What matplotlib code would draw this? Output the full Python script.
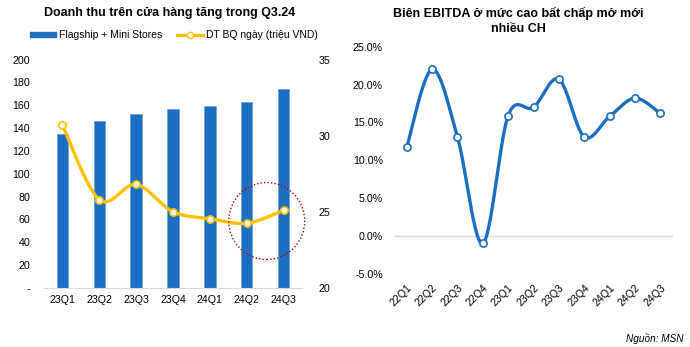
import numpy as np
import matplotlib
matplotlib.use("Agg")
import matplotlib.pyplot as plt
from matplotlib.patches import Ellipse

plt.rcParams['font.family'] = ['Liberation Sans', 'DejaVu Sans']

# left chart
quarters = ['23Q1', '23Q2', '23Q3', '23Q4', '24Q1', '24Q2', '24Q3']
stores = [135, 146, 152, 157, 159, 163, 174]
rev_per_day = [30.7, 25.8, 26.8, 25.0, 24.55, 24.25, 25.1]

# right chart
ebitda_q = ['22Q1', '22Q2', '22Q3', '22Q4', '23Q1', '23Q2', '23Q3', '23Q4', '24Q1', '24Q2', '24Q3']
ebitda = [11.7, 22.0, 13.1, -0.97, 15.9, 17.0, 20.7, 13.1, 15.8, 18.2, 16.2]

BLUE = '#1B6EC2'
GOLD = '#FFC000'
W, H = 690, 347


def smooth(x, y, n=30):
    # bezier smoothing like the spreadsheet "smoothed line" option
    x = np.asarray(x, float)
    y = np.asarray(y, float)
    px = np.concatenate([[x[0]], x, [x[-1]]])
    py = np.concatenate([[y[0]], y, [y[-1]]])
    xs, ys = [], []
    t = np.linspace(0, 1, n)
    for i in range(1, len(px) - 2):
        p0 = np.array([px[i], py[i]])
        p3 = np.array([px[i + 1], py[i + 1]])
        p1 = p0 + (np.array([px[i + 1], py[i + 1]]) - np.array([px[i - 1], py[i - 1]])) / 6
        p2 = p3 - (np.array([px[i + 2], py[i + 2]]) - np.array([px[i], py[i]])) / 6
        b = ((1 - t) ** 3)[:, None] * p0 + (3 * (1 - t) ** 2 * t)[:, None] * p1 \
            + (3 * (1 - t) * t ** 2)[:, None] * p2 + (t ** 3)[:, None] * p3
        xs.extend(b[:, 0])
        ys.extend(b[:, 1])
    return np.array(xs), np.array(ys)


def box(x0, y_top, x1, y_bot):
    return [x0 / W, 1 - y_bot / H, (x1 - x0) / W, (y_bot - y_top) / H]


fig = plt.figure(figsize=(6.9, 3.47), dpi=100)

# ---- left chart
ax = fig.add_axes(box(44, 59.5, 302, 288))
xi = np.arange(len(quarters))
ax.bar(xi, stores, width=0.31, color=BLUE, edgecolor='#5B9BD5', linewidth=0.4, zorder=2)
ax.set_xlim(-0.5, len(quarters) - 0.5)
ax.set_ylim(0, 200)
ax.set_yticks(range(0, 201, 20))
ax.set_yticklabels(['-'] + [str(v) for v in range(20, 201, 20)])
ax.set_xticks(xi)
ax.set_xticklabels(quarters)
for s in ['top', 'right', 'left']:
    ax.spines[s].set_visible(False)
ax.spines['bottom'].set_color('#D9D9D9')
ax.tick_params(length=0, labelsize=7.7, colors='#000000')
ax.tick_params(axis='y', pad=10)
ax.tick_params(axis='x', pad=5)

ax2 = ax.twinx()
sx, sy = smooth(xi, rev_per_day)
ax2.plot(sx, sy, color=GOLD, lw=2.4, zorder=3, solid_capstyle='round')
ax2.plot(xi, rev_per_day, ls='none', marker='o', ms=5.2, mfc='white', mec=GOLD, mew=1.2, zorder=4)
ax2.set_ylim(20, 35)
ax2.set_yticks([20, 25, 30, 35])
for s in ['top', 'right', 'left', 'bottom']:
    ax2.spines[s].set_visible(False)
ax2.tick_params(length=0, labelsize=7.7, pad=12)

line_handle = plt.Line2D([], [], color=GOLD, lw=2.3, marker='o', ms=4.5, mfc='white', mec=GOLD)
bar_handle = plt.Rectangle((0, 0), 1, 0.35, color=BLUE)
fig.legend([bar_handle, line_handle], ['Flagship + Mini Stores', 'DT BQ ngày (triệu VND)'],
           loc='center', bbox_to_anchor=(174 / W, 1 - 35 / H), ncol=2, frameon=False,
           fontsize=7.5, handlelength=2.5, handleheight=0.4, columnspacing=1.4, handletextpad=0.3)

fig.text(170 / W, 1 - 13 / H, 'Doanh thu trên cửa hàng tăng trong Q3.24', ha='center', va='center',
         fontsize=8.9, fontweight='bold')

# dotted highlight circle
fig.patches.append(Ellipse((266.7 / W, 1 - 221 / H), 76 / W, 77 / H, transform=fig.transFigure,
                           fill=False, edgecolor='#C00000', ls=(0, (1, 1.5)), lw=1.0))

# ---- right chart
bx = fig.add_axes(box(394, 46.7, 673, 274))
ei = np.arange(len(ebitda_q))
ex, ey = smooth(ei, ebitda)
bx.axhline(0, color='#D9D9D9', lw=1, zorder=1)
bx.plot(ex, ey, color=BLUE, lw=2.4, zorder=3)
bx.plot(ei, ebitda, ls='none', marker='o', ms=5.2, mfc='white', mec=BLUE, mew=1.2, zorder=4)
bx.set_xlim(-0.5, len(ebitda_q) - 0.5)
bx.set_ylim(-5, 25)
bx.set_yticks(range(-5, 26, 5))
bx.set_yticklabels(['%.1f%%' % v for v in range(-5, 26, 5)])
bx.set_xticks(ei)
bx.set_xticklabels(ebitda_q, rotation=45, ha='right', rotation_mode='anchor')
for s in bx.spines.values():
    s.set_visible(False)
bx.tick_params(length=0, labelsize=7.7)
bx.tick_params(axis='y', pad=8)
bx.tick_params(axis='x', pad=6)

fig.text(518 / W, 1 - 21 / H, 'Biên EBITDA ở mức cao bất chấp mở mới\nnhiều CH', ha='center', va='center',
         fontsize=9, fontweight='bold', linespacing=1.25)

fig.text(683 / W, 1 - 338 / H, 'Nguồn: MSN', ha='right', va='center', fontsize=7.2, style='italic')

fig.savefig('out.png', dpi=100)
